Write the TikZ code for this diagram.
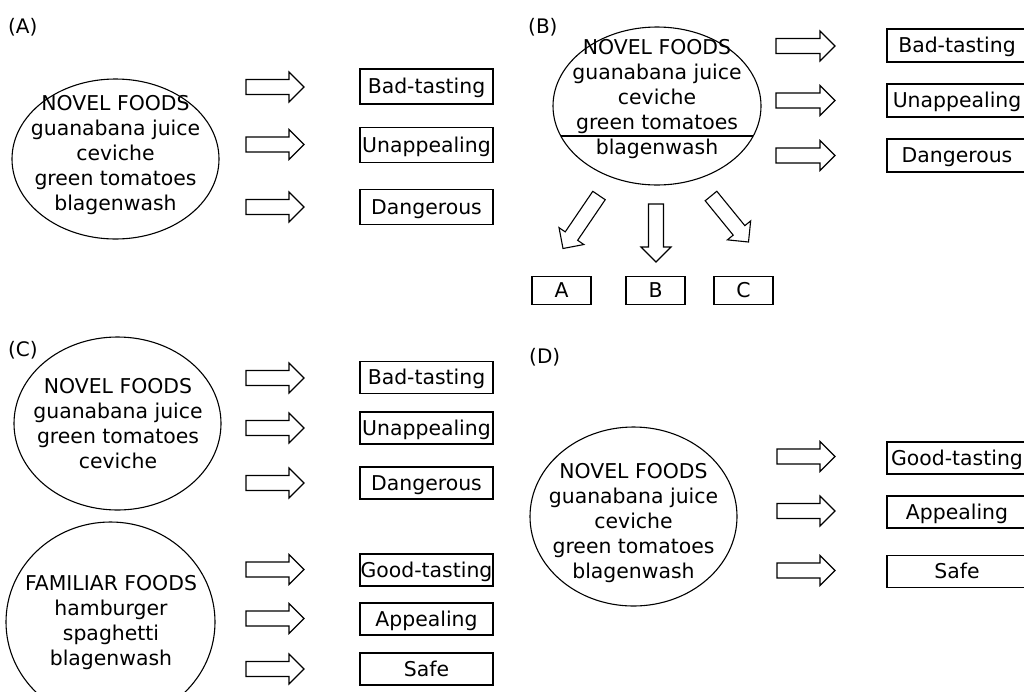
\documentclass[tikz,border=0pt]{standalone}
\usepackage{fontspec}
\setmainfont{DejaVu Sans}
\usetikzlibrary{calc,shapes.geometric}
\tikzset{
  thin line/.style={line width=1.1pt},
  ell/.style={draw, ellipse, line width=1.1pt, inner sep=0pt},
  elltext/.style={align=center, inner sep=0pt, anchor=north, font=\fontsize{20.4}{25}\selectfont},
  lbox/.style={draw, line width=1.1pt, minimum width=133pt, minimum height=33pt, inner sep=0pt,
    text height=14.6pt, text depth=0pt, font=\fontsize{20.4}{25}\selectfont},
  wbox/.style={lbox, minimum width=140pt},
  sbox/.style={lbox, minimum width=59pt, minimum height=27.5pt},
  panel/.style={anchor=base west, inner sep=0pt, font=\fontsize{20}{25}\selectfont},
  barrow/.style={draw, line width=1.1pt, fill=white}
}
\newcommand\blockarr[2]{%
  \draw[barrow] ($(#1)!7.5pt!90:(#2)$) -- ($(#2)!15pt!(#1)!7.5pt!90:(#2)$)
    -- ($(#2)!15pt!(#1)!15pt!90:(#2)$) -- (#2)
    -- ($(#2)!15pt!(#1)!15pt!-90:(#2)$) -- ($(#2)!15pt!(#1)!7.5pt!-90:(#2)$)
    -- ($(#1)!7.5pt!-90:(#2)$) -- cycle;}
\begin{document}
\begin{tikzpicture}[x=1pt,y=-1pt]
\useasboundingbox (0,0) rectangle (1024,691);
\clip (0,0) rectangle (1024,691);

% ---------- Panel A ----------
\node[panel] (labA) at (8,33) {(A)};
\node[ell, minimum width=207pt, minimum height=160pt] (eA) at (115.5,159) {};
\node[elltext] (tA) at (115.5,95) {NOVEL FOODS\\guanabana juice\\ceviche\\green tomatoes\\blagenwash};
\node[lbox, minimum height=35pt] (bA1) at (426.5,86.5) {Bad-tasting};
\node[lbox, minimum height=35pt] (bA2) at (426.5,145) {Unappealing};
\node[lbox, minimum height=35pt] (bA3) at (426.5,207) {Dangerous};
\coordinate (aA1t) at (246,87);    \coordinate (aA1h) at (304,87);
\coordinate (aA2t) at (246,144.5); \coordinate (aA2h) at (304,144.5);
\coordinate (aA3t) at (246,207);   \coordinate (aA3h) at (304,207);
\blockarr{aA1t}{aA1h}
\blockarr{aA2t}{aA2h}
\blockarr{aA3t}{aA3h}

% ---------- Panel B ----------
\node[panel] (labB) at (528,33) {(B)};
\node[ell, minimum width=208pt, minimum height=158pt] (eB) at (657,106) {};
\node[elltext] (tB) at (657,39.5) {NOVEL FOODS\\guanabana juice\\ceviche\\green tomatoes\\blagenwash};
\draw[thin line] ($(eB.center)+(-96.2,30)$) -- ($(eB.center)+(96.2,30)$);
\node[wbox] (bB1) at (957,45.5) {Bad-tasting};
\node[wbox] (bB2) at (957,100.5) {Unappealing};
\node[wbox] (bB3) at (957,155.5) {Dangerous};
\coordinate (aB1t) at (776,46);    \coordinate (aB1h) at (835,46);
\coordinate (aB2t) at (776,100.5); \coordinate (aB2h) at (835,100.5);
\coordinate (aB3t) at (776,155.5); \coordinate (aB3h) at (835,155.5);
\blockarr{aB1t}{aB1h}
\blockarr{aB2t}{aB2h}
\blockarr{aB3t}{aB3h}
\node[sbox] (sA) at (561.5,290.5) {A};
\node[sbox] (sB) at (655.5,290.5) {B};
\node[sbox] (sC) at (743.5,290.5) {C};
\coordinate (dAt) at (599,195.5); \coordinate (dAh) at (563,248.5);
\coordinate (dBt) at (656,204);   \coordinate (dBh) at (656,262);
\coordinate (dCt) at (711,196);   \coordinate (dCh) at (748.5,242);
\blockarr{dAt}{dAh}
\blockarr{dBt}{dBh}
\blockarr{dCt}{dCh}

% ---------- Panel C ----------
\node[ell, minimum width=207pt, minimum height=173pt] (eC1) at (117.5,423.5) {};
\node[elltext] (tC1) at (118,378) {NOVEL FOODS\\guanabana juice\\green tomatoes\\ceviche};
\node[ell, minimum width=209pt, minimum height=200pt] (eC2) at (110.5,622) {};
\node[elltext] (tC2) at (111,575) {FAMILIAR FOODS\\hamburger\\spaghetti\\blagenwash};
\node[panel] (labC) at (8,356) {(C)};
\node[lbox, minimum height=32pt] (bC1) at (426.5,377.5) {Bad-tasting};
\node[lbox, minimum height=32pt] (bC2) at (426.5,428) {Unappealing};
\node[lbox, minimum height=32pt] (bC3) at (426.5,483) {Dangerous};
\node[lbox, minimum height=32pt] (bC4) at (426.5,570) {Good-tasting};
\node[lbox, minimum height=32pt] (bC5) at (426.5,619) {Appealing};
\node[lbox, minimum height=32pt] (bC6) at (426.5,669) {Safe};
\coordinate (aC1t) at (246,378);   \coordinate (aC1h) at (304,378);
\coordinate (aC2t) at (246,428);   \coordinate (aC2h) at (304,428);
\coordinate (aC3t) at (246,483);   \coordinate (aC3h) at (304,483);
\coordinate (aC4t) at (246,569.5); \coordinate (aC4h) at (304,569.5);
\coordinate (aC5t) at (246,618.5); \coordinate (aC5h) at (304,618.5);
\coordinate (aC6t) at (246,669);   \coordinate (aC6h) at (304,669);
\blockarr{aC1t}{aC1h}
\blockarr{aC2t}{aC2h}
\blockarr{aC3t}{aC3h}
\blockarr{aC4t}{aC4h}
\blockarr{aC5t}{aC5h}
\blockarr{aC6t}{aC6h}

% ---------- Panel D ----------
\node[panel] (labD) at (529,363) {(D)};
\node[ell, minimum width=207pt, minimum height=179pt] (eD) at (633.5,516.5) {};
\node[elltext] (tD) at (633.5,463) {NOVEL FOODS\\guanabana juice\\ceviche\\green tomatoes\\blagenwash};
\node[wbox, minimum height=32pt] (bD1) at (957,458) {Good-tasting};
\node[wbox, minimum height=32pt] (bD2) at (957,512) {Appealing};
\node[wbox, minimum height=32pt] (bD3) at (957,571.5) {Safe};
\coordinate (aD1t) at (777,456.5); \coordinate (aD1h) at (835,456.5);
\coordinate (aD2t) at (777,511);   \coordinate (aD2h) at (835,511);
\coordinate (aD3t) at (777,570.5); \coordinate (aD3h) at (835,570.5);
\blockarr{aD1t}{aD1h}
\blockarr{aD2t}{aD2h}
\blockarr{aD3t}{aD3h}
\end{tikzpicture}
\end{document}
